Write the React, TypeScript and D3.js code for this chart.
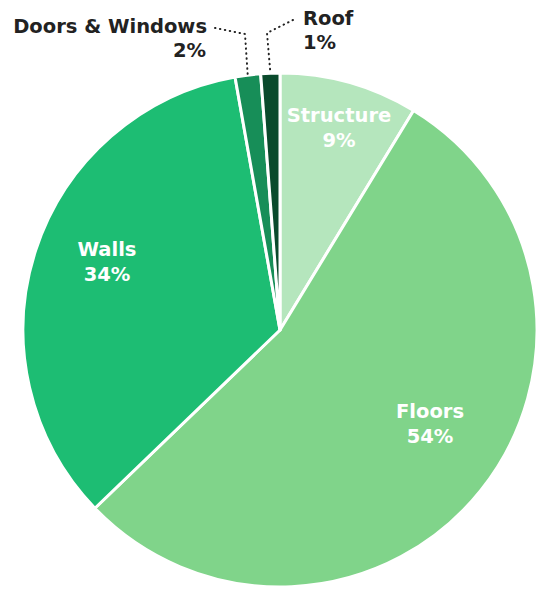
import React from "react";
import * as d3 from "d3";

const categories = ["Structure", "Floors", "Walls", "Doors & Windows", "Roof"];
const values = [8.7, 54.1, 34.4, 1.6, 1.2];
const colors = ["#b5e6bd", "#80d48a", "#1dbd73", "#178e58", "#0a4a2c"];

const W = 540;
const H = 589;
const cx = 280;
const cy = 330;
const R = 257;
const FONT = "'DejaVu Sans', sans-serif";
const FS = 19.5;

export default function App() {
  const data = categories.map((c, i) => ({ name: c, value: values[i], color: colors[i] }));
  const pie = d3.pie<any>().value((d) => d.value).sort(null);
  const arcs = pie(data);
  const arc = d3.arc<any>().innerRadius(0).outerRadius(R);

  const insideLabels: { i: number; x: number; y: number }[] = [
    { i: 0, x: 339, y: 122 },
    { i: 1, x: 430, y: 418 },
    { i: 2, x: 107, y: 256 },
  ];

  const outerPt = (a: any, r: number) => {
    const m = (a.startAngle + a.endAngle) / 2;
    return [r * Math.sin(m), -r * Math.cos(m)];
  };

  const dIdx = 3;
  const rIdx = 4;
  const dEnd = outerPt(arcs[dIdx], R + 1);
  const rEnd = outerPt(arcs[rIdx], R + 2);
  const pct = (v: number) => `${Math.round(v)}%`;

  return (
    <svg width={W} height={H} style={{ position: "absolute", left: 0, top: 0 }}>
      <g transform={`translate(${cx},${cy})`}>
        {arcs.map((a, i) => (
          <path key={i} d={arc(a) as string} fill={a.data.color} stroke="#fff" strokeWidth={3} strokeLinejoin="round" />
        ))}
        <polyline
          points={`${215 - cx},${28 - cy} ${245 - cx},${34 - cy} ${dEnd[0]},${dEnd[1]}`}
          fill="none" stroke="#222" strokeWidth={2} strokeDasharray="0.5 4.5" strokeLinecap="round"
        />
        <polyline
          points={`${293 - cx},${20 - cy} ${267 - cx},${33 - cy} ${rEnd[0]},${rEnd[1]}`}
          fill="none" stroke="#222" strokeWidth={2} strokeDasharray="0.5 4.5" strokeLinecap="round"
        />
      </g>
      {insideLabels.map(({ i, x, y }) => (
        <text key={i} textAnchor="middle" fill="#fff" fontFamily={FONT} fontWeight="bold" fontSize={FS}>
          <tspan x={x} y={y}>{categories[i]}</tspan>
          <tspan x={x} y={y + 25}>{pct(values[i])}</tspan>
        </text>
      ))}
      <text x={207} y={33} textAnchor="end" fill="#222" fontFamily={FONT} fontWeight="bold" fontSize={FS}>
        {categories[dIdx]}
      </text>
      <text x={206} y={57} textAnchor="end" fill="#222" fontFamily={FONT} fontWeight="bold" fontSize={FS}>
        {pct(values[dIdx])}
      </text>
      <text x={303} y={25} textAnchor="start" fill="#222" fontFamily={FONT} fontWeight="bold" fontSize={FS}>
        {categories[rIdx]}
      </text>
      <text x={303} y={49} textAnchor="start" fill="#222" fontFamily={FONT} fontWeight="bold" fontSize={FS}>
        {pct(values[rIdx])}
      </text>
    </svg>
  );
}
